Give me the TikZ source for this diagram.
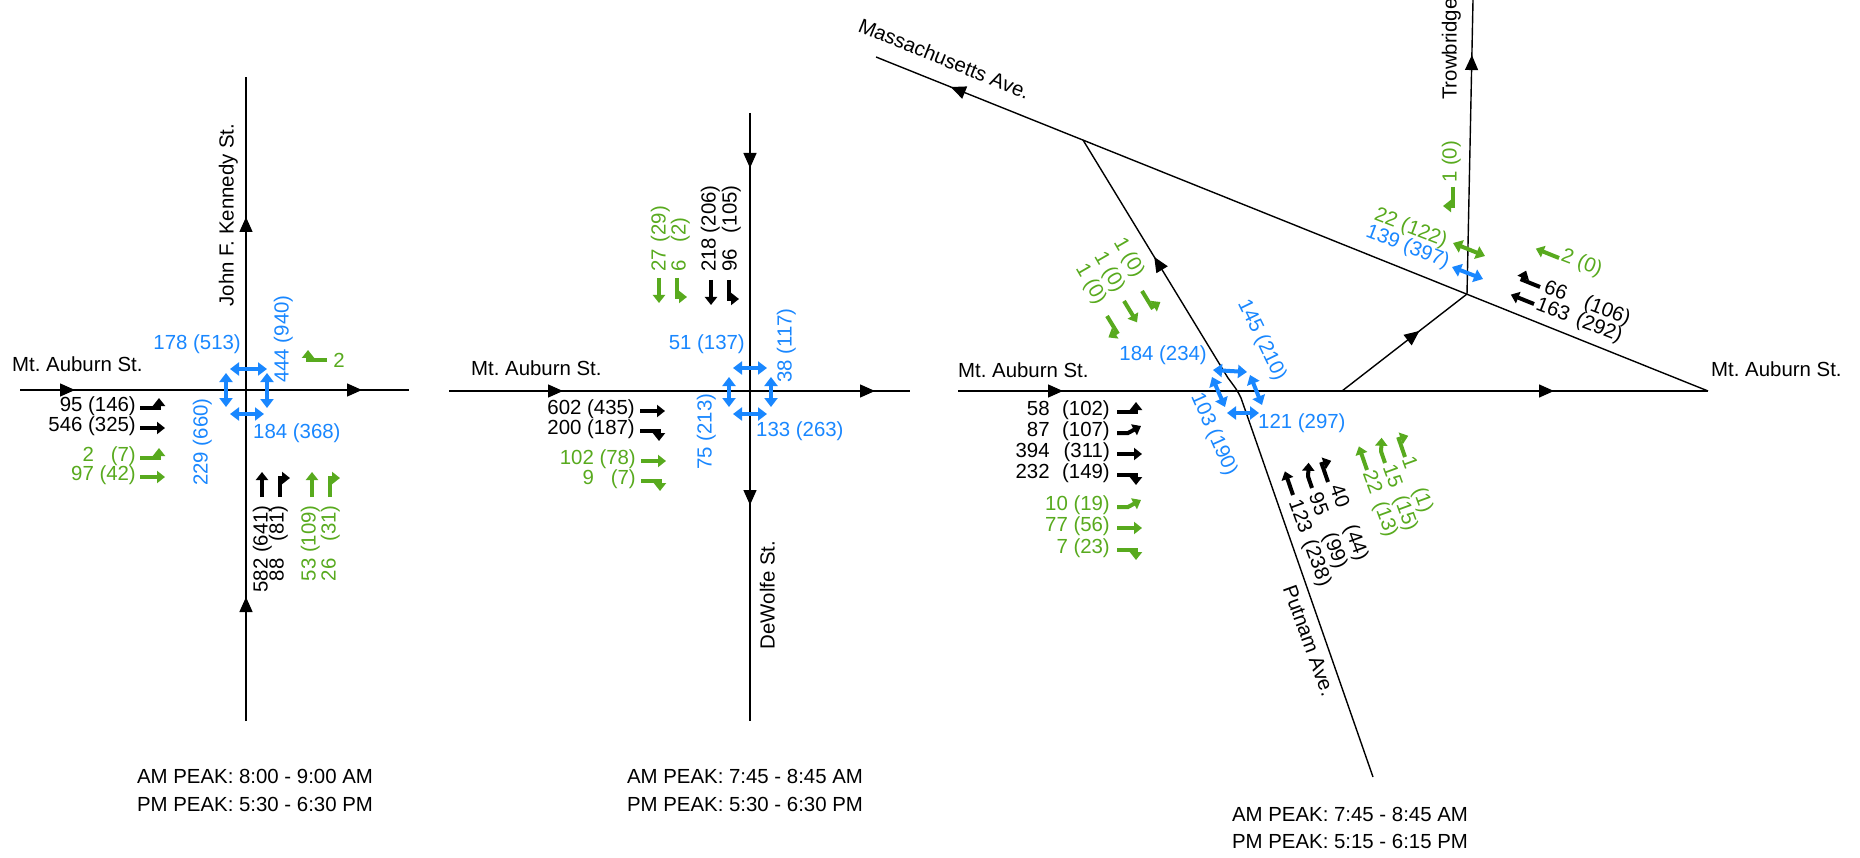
\documentclass[tikz,border=0pt]{standalone}
\usepackage{fontspec}
\setmainfont{Liberation Sans}
\usetikzlibrary{arrows.meta,decorations.markings}
\definecolor{grn}{RGB}{88,170,30}
\definecolor{blu}{RGB}{25,135,255}
\tikzset{
 lbl/.style={inner sep=0pt, text height=0.72em, text depth=0pt, font=\fontsize{20.4}{24}\selectfont},
 road/.style={line width=1.4pt, black},
 roadarr/.style={postaction={decorate,decoration={markings,mark=at position #1 with {\arrow{Triangle[length=15pt,width=13pt]}}}}},
 mv/.style={line width=4pt, line join=miter, -{Triangle[length=8pt,width=12pt]}},
 ped/.style={line width=4pt, {Triangle[length=9pt,width=13pt]}-{Triangle[length=9pt,width=13pt]}},
 pics/mvT/.style={code={\draw[mv] (0,0) -- (25,0);}},
 pics/mvL/.style={code={\draw[mv] (0,0) -- (19,0) -- (19,10);}},
 pics/mvR/.style={code={\draw[mv] (0,0) -- (19,0) -- (19,-10);}},
 pics/mvBL/.style={code={\draw[mv] (0,0) -- (11,0) -- (24,7);}},
 pics/mvBR/.style={code={\draw[mv] (0,0) -- (12,0) -- (25,-5);}},
}
\frenchspacing
\begin{document}
\begin{tikzpicture}[x=1pt,y=1pt]
\useasboundingbox (0,-858) rectangle (1860,0);
\fill[white] (0,-858) rectangle (1860,0);

% ---------------- Panel 1 ----------------
\coordinate (h1w) at (20,-390);
\coordinate (h1e) at (409,-390);
\coordinate (v1s) at (246,-721);
\coordinate (v1n) at (246,-77);
\draw[road, roadarr=55pt, roadarr=342pt] (h1w) -- (h1e);
\draw[road, roadarr=124pt, roadarr=504pt] (v1s) -- (v1n);

\node[lbl,anchor=west] (t1mt) at (12,-368) {Mt. Auburn St.};
\node[lbl,rotate=90] (t1jfk) at (230,-215) {John F. Kennedy St.};

\node[lbl,blu,anchor=east] (b1a) at (241,-346) {178 (513)};
\node[lbl,blu,rotate=90,anchor=west] (b1b) at (285,-383) {444 (940)};
\node[lbl,blu,rotate=90,anchor=west] (b1c) at (204,-486) {229 (660)};
\node[lbl,blu,anchor=west] (b1d) at (253,-435) {184 (368)};
\draw[ped,blu] (230,-369) -- (267,-369);
\draw[ped,blu] (230,-414) -- (264,-414);
\draw[ped,blu] (226,-373) -- (226,-407);
\draw[ped,blu] (267,-373) -- (267,-408);

\node[lbl,anchor=east] (k1a) at (136,-408) {95 (146)};
\node[lbl,anchor=east] (k1b) at (136,-428) {546 (325)};
\node[lbl,grn,anchor=east] (g1a) at (136,-458) {\makebox[1.112em][r]{2}\ \makebox[1.778em][r]{(7)}};
\node[lbl,grn,anchor=east] (g1b) at (136,-477) {97 (42)};
\pic[black] at (140,-408) {mvL};
\pic[black] at (140,-428) {mvT};
\pic[grn] at (140,-458) {mvL};
\pic[grn] at (140,-477) {mvT};

\node[lbl,grn] (g1c) at (339,-364) {2};
\pic[grn,rotate=180] at (327,-360) {mvR};

\node[lbl,rotate=90,anchor=east] (k1c) at (264,-505) {582 (641)};
\node[lbl,rotate=90,anchor=east] (k1d) at (280,-505) {\makebox[1.668em][r]{88}\ \makebox[2.334em][r]{(81)}};
\node[lbl,grn,rotate=90,anchor=east] (g1d) at (312,-505) {53 (109)};
\node[lbl,grn,rotate=90,anchor=east] (g1e) at (332,-505) {\makebox[1.112em][r]{26}\ \makebox[2.334em][r]{(31)}};
\pic[black,rotate=90] at (262,-497) {mvT};
\pic[black,rotate=90] at (280,-497) {mvR};
\pic[grn,rotate=90] at (312,-497) {mvT};
\pic[grn,rotate=90] at (330,-497) {mvR};

\node[lbl] (am1) at (255,-780) {AM PEAK: 8:00 - 9:00 AM};
\node[lbl] (pm1) at (255,-808) {PM PEAK: 5:30 - 6:30 PM};

% ---------------- Panel 2 ----------------
\coordinate (h2w) at (449,-391);
\coordinate (h2e) at (910,-391);
\coordinate (v2n) at (750,-113);
\coordinate (v2s) at (750,-721);
\draw[road, roadarr=114pt, roadarr=426pt] (h2w) -- (h2e);
\draw[road, roadarr=55pt, roadarr=392pt] (v2n) -- (v2s);

\node[lbl,anchor=west] (t2mt) at (471,-372) {Mt. Auburn St.};
\node[lbl,rotate=90] (t2dw) at (771,-595) {DeWolfe St.};

\node[lbl,blu,anchor=east] (b2a) at (745,-346) {51 (137)};
\node[lbl,blu,rotate=90,anchor=west] (b2b) at (788,-383) {38 (117)};
\node[lbl,blu,rotate=90,anchor=west] (b2c) at (708,-470) {75 (213)};
\node[lbl,blu,anchor=west] (b2d) at (756,-433) {133 (263)};
\draw[ped,blu] (733,-368) -- (767,-368);
\draw[ped,blu] (733,-414) -- (767,-414);
\draw[ped,blu] (729,-377) -- (729,-407);
\draw[ped,blu] (771,-377) -- (771,-407);

\node[lbl,anchor=east] (k2a) at (635,-411) {602 (435)};
\node[lbl,anchor=east] (k2b) at (635,-431) {200 (187)};
\node[lbl,grn,anchor=east] (g2a) at (636,-461) {102 (78)};
\node[lbl,grn,anchor=east] (g2b) at (636,-481) {\makebox[1.668em][r]{9}\ \makebox[1.778em][r]{(7)}};
\pic[black] at (640,-411) {mvT};
\pic[black] at (640,-431) {mvR};
\pic[grn] at (641,-461) {mvT};
\pic[grn] at (641,-481) {mvR};

\node[lbl,grn,rotate=90,anchor=west] (g2c) at (662,-272) {\makebox[1.45em][l]{27}\makebox[1.7em][l]{(29)}};
\node[lbl,grn,rotate=90,anchor=west] (g2d) at (682,-272) {\makebox[1.45em][l]{6}\makebox[1.7em][l]{(2)}};
\node[lbl,rotate=90,anchor=west] (k2c) at (712,-272) {\makebox[1.9em][l]{218}(206)};
\node[lbl,rotate=90,anchor=west] (k2d) at (733,-272) {\makebox[1.9em][l]{96}(105)};
\pic[grn,rotate=-90] at (659,-278) {mvT};
\pic[grn,rotate=-90] at (677,-278) {mvL};
\pic[black,rotate=-90] at (711,-280) {mvT};
\pic[black,rotate=-90] at (729,-280) {mvL};

\node[lbl] (am2) at (745,-780) {AM PEAK: 7:45 - 8:45 AM};
\node[lbl] (pm2) at (745,-808) {PM PEAK: 5:30 - 6:30 PM};

% ---------------- Panel 3 ----------------
\coordinate (h3w) at (958,-391);
\coordinate (h3e) at (1708,-391);
\coordinate (massW) at (876,-57);
\coordinate (massJ) at (1083,-140);
\coordinate (putS) at (1373,-777);
\coordinate (bendLo) at (1241,-398);
\coordinate (bendC) at (1237,-390);
\coordinate (bendHi) at (1228,-378);
\coordinate (lnkS) at (1342,-391);
\coordinate (trJ) at (1467,-294);
\coordinate (trN) at (1473,0);
\draw[road, roadarr=105pt, roadarr=596pt] (h3w) -- (h3e);
\draw[road, roadarr=816pt] (h3e) -- (massW);
\draw[road, roadarr=567pt] (putS) -- (bendLo) .. controls (bendC) .. (bendHi) -- (massJ);
\draw[road, roadarr=98pt] (lnkS) -- (trJ);
\draw[road, roadarr=239pt] (trJ) -- (trN);

\node[lbl,anchor=west] (t3mtw) at (958,-374) {Mt. Auburn St.};
\node[lbl,anchor=west] (t3mte) at (1711,-373) {Mt. Auburn St.};
\node[lbl,rotate=-22] (t3mass) at (943,-62) {Massachusetts Ave.};
\node[lbl,rotate=-70] (t3put) at (1306,-642) {Putnam Ave.};
\node[lbl,rotate=90,anchor=west] (t3tr) at (1453,-100) {Trowbridge};

\node[lbl,blu,anchor=east] (b3a) at (1207,-357) {184 (234)};
\node[lbl,blu,rotate=-64] (b3b) at (1260,-341) {145 (210)};
\node[lbl,blu,rotate=-66] (b3c) at (1212,-435) {103 (190)};
\node[lbl,blu,anchor=west] (b3d) at (1258,-425) {121 (297)};
\draw[ped,blu] (1213,-370) -- (1247,-372);
\draw[ped,blu] (1212,-377) -- (1225,-407);
\draw[ped,blu] (1250,-375) -- (1262,-405);
\draw[ped,blu] (1227,-413) -- (1259,-413);

\node[lbl,blu,rotate=-21] (b3e) at (1407,-249) {139 (397)};
\node[lbl,grn,rotate=-21] (g3a) at (1410,-230) {22 (122)};
\draw[ped,grn] (1453,-243) -- (1485,-256);
\draw[ped,blu] (1452,-267) -- (1483,-279);

\node[lbl,grn,rotate=90] (g3b) at (1453,-162) {1 (0)};
\pic[grn,rotate=-90] at (1453,-187) {mvR};

\node[lbl,grn,rotate=-21] (g3c) at (1581,-265) {2 (0)};
\pic[grn,rotate=158] at (1559,-258) {mvT};
\node[lbl,rotate=-21,anchor=west] (k3a) at (1544,-289) {\makebox[2.1em][l]{66}(106)};
\node[lbl,rotate=-21,anchor=west] (k3b) at (1536,-306) {\makebox[2.1em][l]{163}(292)};
\pic[black,rotate=158] at (1540,-287) {mvR};
\pic[black,rotate=158] at (1534,-304) {mvT};

\node[lbl,grn,rotate=-60] (g3d) at (1127,-258.5) {1 (0)};
\node[lbl,grn,rotate=-60] (g3e) at (1107.5,-273) {1 (0)};
\node[lbl,grn,rotate=-60] (g3f) at (1089,-285) {1 (0)};
\pic[grn,rotate=-58.6] at (1142,-291) {mvL};
\pic[grn,rotate=-58.6] at (1124,-301) {mvT};
\pic[grn,rotate=-58.6] at (1107,-316) {mvR};

\node[lbl,anchor=east] (k3c) at (1110,-412) {\makebox[1.668em][r]{58}\makebox[2.95em][r]{(102)}};
\node[lbl,anchor=east] (k3d) at (1110,-433) {\makebox[1.668em][r]{87}\makebox[2.95em][r]{(107)}};
\node[lbl,anchor=east] (k3e) at (1110,-454) {\makebox[1.668em][r]{394}\makebox[2.95em][r]{(311)}};
\node[lbl,anchor=east] (k3f) at (1110,-475) {\makebox[1.668em][r]{232}\makebox[2.95em][r]{(149)}};
\node[lbl,grn,anchor=east] (g3g) at (1110,-507) {10 (19)};
\node[lbl,grn,anchor=east] (g3h) at (1110,-528) {77 (56)};
\node[lbl,grn,anchor=east] (g3i) at (1110,-550) {\makebox[1.112em][r]{7}\ (23)};
\pic[black] at (1117,-412) {mvL};
\pic[black] at (1117,-433) {mvBL};
\pic[black] at (1117,-454) {mvT};
\pic[black] at (1117,-475) {mvR};
\pic[grn] at (1117,-507) {mvBL};
\pic[grn] at (1117,-528) {mvT};
\pic[grn] at (1117,-550) {mvR};

\node[lbl,rotate=-70,anchor=west] (k3g) at (1333,-486) {\makebox[2.1em][l]{40}(44)};
\node[lbl,rotate=-70,anchor=west] (k3h) at (1312,-494) {\makebox[2.1em][l]{95}(99)};
\node[lbl,rotate=-70,anchor=west] (k3i) at (1292,-501) {\makebox[2.1em][l]{123}(238)};
\pic[black,rotate=109] at (1293,-495) {mvT};
\pic[black,rotate=109] at (1312,-488) {mvBR};
\pic[black,rotate=109] at (1328,-482) {mvR};
\node[lbl,grn,rotate=-70,anchor=west] (g3j) at (1405,-458) {\makebox[1.6em][l]{1}(1)};
\node[lbl,grn,rotate=-70,anchor=west] (g3k) at (1386,-466) {\makebox[1.6em][l]{15}(15)};
\node[lbl,grn,rotate=-70,anchor=west] (g3l) at (1366,-472) {\makebox[1.6em][l]{22}(13)};
\pic[grn,rotate=109] at (1367,-470) {mvT};
\pic[grn,rotate=109] at (1385,-463) {mvBR};
\pic[grn,rotate=109] at (1405,-457) {mvR};

\node[lbl] (am3) at (1350,-818) {AM PEAK: 7:45 - 8:45 AM};
\node[lbl] (pm3) at (1350,-845) {PM PEAK: 5:15 - 6:15 PM};
\end{tikzpicture}
\end{document}
